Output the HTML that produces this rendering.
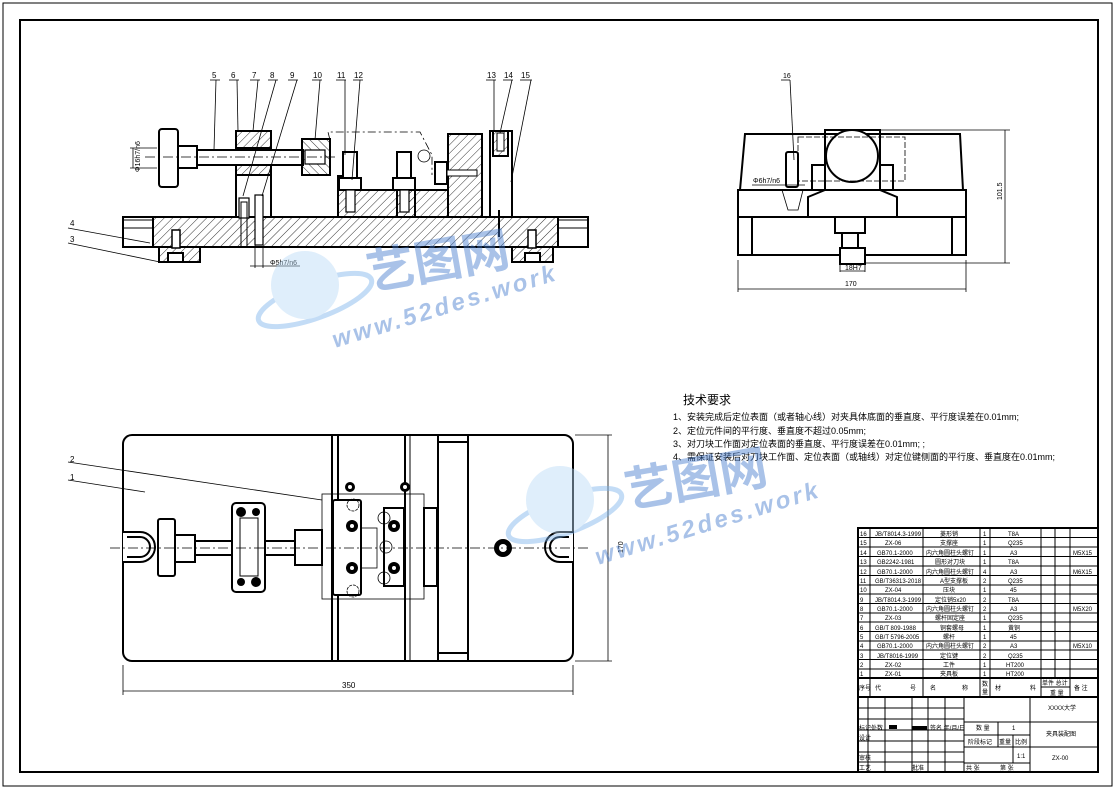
<!DOCTYPE html>
<html><head><meta charset="utf-8"><style>
html,body{margin:0;padding:0;background:#fff}
svg{display:block}
text{font-family:"Liberation Sans","Noto Sans CJK SC",sans-serif;fill:#000}
</style></head><body>
<svg width="1115" height="789" viewBox="0 0 1115 789" xmlns="http://www.w3.org/2000/svg">
<defs>
<pattern id="h" width="6" height="6" patternUnits="userSpaceOnUse" patternTransform="rotate(45)">
<line x1="0" y1="0" x2="0" y2="6" stroke="#000" stroke-width="0.8"/></pattern>
<pattern id="h2" width="6" height="6" patternUnits="userSpaceOnUse" patternTransform="rotate(-45)">
<line x1="0" y1="0" x2="0" y2="6" stroke="#000" stroke-width="0.8"/></pattern>
</defs>
<rect x="0" y="0" width="1115" height="789" fill="#fff"/>
<rect x="3" y="3" width="1109" height="783" fill="none" stroke="#000" stroke-width="1"/>
<rect x="20" y="20" width="1078" height="752" fill="none" stroke="#000" stroke-width="2"/>

<!-- FRONT VIEW -->
<g stroke="#000" fill="none" stroke-width="2">
<rect x="123" y="217" width="465" height="30" fill="url(#h)"/>
<rect x="123" y="217" width="30" height="30" fill="#fff"/>
<rect x="558" y="217" width="30" height="30" fill="#fff"/>
<rect x="123" y="220" width="30" height="8" stroke-width="1"/>
<rect x="558" y="220" width="30" height="8" stroke-width="1"/>
<rect x="159" y="247" width="41" height="15" fill="url(#h)"/>
<rect x="512" y="247" width="41" height="15" fill="url(#h)"/>
<rect x="168" y="253" width="15" height="9" fill="#fff"/>
<rect x="525" y="253" width="15" height="9" fill="#fff"/>
<rect x="172" y="230" width="8" height="18" fill="#fff" stroke-width="1.5"/>
<rect x="528" y="230" width="8" height="18" fill="#fff" stroke-width="1.5"/>
<polygon points="338,217 338,176 355,176 355,190 415,190 415,217" fill="url(#h)"/>
<rect x="415" y="190" width="33" height="27" fill="url(#h)"/>
<polygon points="397,190 415,190 415,217 397,217" fill="url(#h)"/>
<rect x="448" y="134" width="34" height="83" fill="url(#h)"/>
<rect x="490" y="131" width="22" height="86" fill="#fff"/>
<rect x="493" y="131" width="15" height="25" fill="url(#h)"/>
<rect x="497" y="133" width="7" height="18" fill="#fff" stroke-width="1"/>
<rect x="236" y="131" width="35" height="17" fill="url(#h)"/>
<rect x="236" y="148" width="35" height="69"/>
<rect x="236" y="157" width="35" height="18" fill="url(#h)"/>
<rect x="239" y="198" width="10" height="20" fill="#fff" stroke-width="1.2"/>
<rect x="255" y="195" width="8" height="50" fill="#fff" stroke-width="1.2"/>
<rect x="241" y="202" width="6" height="45" stroke-width="1"/>
<rect x="159" y="129" width="19" height="58" rx="3" fill="#fff"/>
<rect x="178" y="146" width="19" height="22" fill="#fff"/>
<rect x="197" y="150" width="106" height="15" fill="#fff"/>
<rect x="302" y="139" width="28" height="36" fill="url(#h2)"/>
<rect x="305" y="150" width="20" height="14" fill="#fff" stroke-width="1.2"/>
<rect x="343" y="152" width="14" height="30" fill="#fff"/>
<rect x="339" y="178" width="22" height="12" fill="#fff"/>
<rect x="346" y="190" width="9" height="22" fill="#fff" stroke-width="1.2"/>
<rect x="397" y="152" width="14" height="30" fill="#fff"/>
<rect x="393" y="178" width="22" height="12" fill="#fff"/>
<rect x="400" y="190" width="9" height="22" fill="#fff" stroke-width="1.2"/>
<rect x="435" y="162" width="12" height="22" fill="#fff"/>
<rect x="447" y="170" width="30" height="6" fill="#fff" stroke-width="1"/>
</g>
<g stroke="#000" fill="none" stroke-width="0.8">
<polyline points="330,140 328,132 420,132 432,155 432,175" stroke-dasharray="8,3,2,3"/>
<circle cx="424" cy="156" r="6"/>
<line x1="145" y1="157" x2="335" y2="157" stroke-dasharray="10,3,2,3"/>
<line x1="157" y1="148" x2="130" y2="148"/><line x1="157" y1="168" x2="130" y2="168"/>
<line x1="133" y1="148" x2="133" y2="168"/>
<line x1="255" y1="247" x2="255" y2="268"/><line x1="263" y1="247" x2="263" y2="268"/>
<line x1="250" y1="266" x2="300" y2="266"/>
<line x1="499" y1="210" x2="499" y2="237" stroke-width="2"/>
<line x1="210" y1="80" x2="220" y2="80"/><line x1="216" y1="80" x2="214" y2="150"/>
<line x1="229" y1="80" x2="239" y2="80"/><line x1="237" y1="80" x2="238" y2="131"/>
<line x1="250" y1="80" x2="260" y2="80"/><line x1="258" y1="80" x2="253" y2="131"/>
<line x1="268" y1="80" x2="278" y2="80"/><line x1="276" y1="80" x2="243" y2="196"/>
<line x1="288" y1="80" x2="298" y2="80"/><line x1="297" y1="80" x2="262" y2="196"/>
<line x1="312" y1="80" x2="322" y2="80"/><line x1="320" y1="80" x2="315" y2="140"/>
<line x1="336" y1="80" x2="346" y2="80"/><line x1="345" y1="80" x2="345" y2="155"/>
<line x1="353" y1="80" x2="363" y2="80"/><line x1="360" y1="80" x2="352" y2="180"/>
<line x1="486" y1="80" x2="496" y2="80"/><line x1="494" y1="80" x2="494" y2="131"/>
<line x1="503" y1="80" x2="513" y2="80"/><line x1="512" y1="80" x2="500" y2="133"/>
<line x1="520" y1="80" x2="532" y2="80"/><line x1="531" y1="80" x2="511" y2="182"/>
<line x1="68" y1="228" x2="150" y2="243"/><line x1="68" y1="243" x2="160" y2="262"/>
</g>
<g font-size="8">
<text x="212" y="78">5</text><text x="231" y="78">6</text><text x="252" y="78">7</text><text x="270" y="78">8</text><text x="290" y="78">9</text><text x="313" y="78">10</text><text x="337" y="78">11</text><text x="354" y="78">12</text><text x="487" y="78">13</text><text x="504" y="78">14</text><text x="521" y="78">15</text>
<text x="70" y="226">4</text><text x="70" y="242">3</text>
<text x="270" y="265" font-size="7">Φ5h7/n6</text>
<text x="140" y="172" font-size="7" transform="rotate(-90 140 172)">Φ16h7/n6</text>
</g>

<!-- SIDE VIEW -->
<g stroke="#000" fill="none" stroke-width="2">
<polygon points="745,134 960,134 963,190 740,190"/>
<rect x="738" y="190" width="228" height="27"/>
<rect x="738" y="217" width="228" height="38"/>
<line x1="752" y1="217" x2="752" y2="255"/><line x1="952" y1="217" x2="952" y2="255"/>
<rect x="835" y="217" width="30" height="16" fill="#fff"/>
<rect x="842" y="233" width="16" height="15" fill="#fff"/>
<rect x="840" y="248" width="25" height="16" fill="#fff"/>
<polyline points="825,190 825,130 880,130 880,190"/>
<rect x="812" y="165" width="13" height="25"/><rect x="880" y="165" width="13" height="25"/>
<polyline points="808,217 808,197 825,190"/><polyline points="897,217 897,197 880,190"/>
<circle cx="852" cy="156" r="26" fill="#fff"/>
<rect x="786" y="152" width="12" height="35" rx="2"/>
</g>
<g stroke="#000" fill="none" stroke-width="0.8">
<rect x="798" y="137" width="107" height="44" stroke-dasharray="6,2"/>
<path d="M782,190 L788,210 L798,210 L803,190"/>
<line x1="790" y1="80" x2="781" y2="80"/><line x1="790" y1="80" x2="794" y2="160"/>
<line x1="752" y1="185" x2="805" y2="185"/>
<line x1="880" y1="130" x2="1010" y2="130"/><line x1="865" y1="263" x2="1010" y2="263"/>
<line x1="1005" y1="130" x2="1005" y2="263"/>
<line x1="738" y1="260" x2="738" y2="292"/><line x1="966" y1="260" x2="966" y2="292"/>
<line x1="738" y1="289" x2="966" y2="289"/>
<line x1="840" y1="264" x2="840" y2="272"/><line x1="865" y1="264" x2="865" y2="272"/>
<line x1="840" y1="271" x2="865" y2="271"/>
</g>
<g font-size="7">
<text x="783" y="78">16</text><text x="753" y="183">Φ6h7/n6</text>
<text x="845" y="270">18H7</text><text x="845" y="286">170</text>
<text x="1002" y="200" transform="rotate(-90 1002 200)">101.5</text>
</g>

<!-- TOP VIEW -->
<g stroke="#000" fill="none" stroke-width="2">
<rect x="123" y="435" width="450" height="226" rx="9"/>
<line x1="332" y1="435" x2="332" y2="661"/><line x1="338" y1="435" x2="338" y2="661"/>
<line x1="405" y1="435" x2="405" y2="661"/><line x1="410" y1="435" x2="410" y2="661" stroke-width="1"/>
<rect x="438" y="435" width="30" height="226"/>
<line x1="438" y1="442" x2="468" y2="442"/><line x1="438" y1="653" x2="468" y2="653"/>
<path d="M123,532 H140 A10,10 0 0 1 140,562 H123" fill="#fff"/>
<path d="M127,537 H140 A5,5 0 0 1 140,557 H127"/>
<path d="M573,532 H560 A10,10 0 0 0 560,562 H573" fill="#fff"/>
<path d="M569,537 H560 A5,5 0 0 0 560,557 H569"/>
<rect x="158" y="519" width="17" height="57" rx="2" fill="#fff"/>
<rect x="175" y="535" width="20" height="27" fill="#fff"/>
<rect x="195" y="541" width="100" height="14" fill="#fff"/>
<rect x="232" y="503" width="33" height="89" rx="4" fill="#fff"/>
<rect x="240" y="518" width="18" height="58" stroke-width="1"/>
<rect x="295" y="530" width="27" height="35" fill="#fff"/>
<rect x="333" y="500" width="28" height="95" rx="2" fill="#fff"/>
<rect x="384" y="508" width="20" height="78" fill="#fff"/>
<rect x="424" y="508" width="13" height="78" fill="#fff"/>
</g>
<g fill="#000">
<circle cx="241" cy="512" r="5"/><circle cx="256" cy="512" r="4"/>
<circle cx="241" cy="582" r="4"/><circle cx="256" cy="582" r="5"/>
<circle cx="350" cy="487" r="5"/><circle cx="405" cy="487" r="5"/>
<circle cx="352" cy="526" r="6"/><circle cx="352" cy="568" r="6"/>
<circle cx="394" cy="526" r="6"/><circle cx="394" cy="568" r="6"/>
<circle cx="503" cy="548" r="9"/>
</g>
<g fill="#fff"><circle cx="350" cy="487" r="2"/><circle cx="405" cy="487" r="2"/><circle cx="352" cy="526" r="2"/><circle cx="352" cy="568" r="2"/><circle cx="394" cy="526" r="2"/><circle cx="394" cy="568" r="2"/><circle cx="503" cy="548" r="4"/></g>
<g stroke="#000" fill="none" stroke-width="0.8">
<rect x="322" y="494" width="102" height="105"/>
<rect x="361" y="528" width="16" height="40"/>
<circle cx="353" cy="505" r="6" stroke-dasharray="3,1"/><circle cx="353" cy="591" r="6" stroke-dasharray="3,1"/>
<circle cx="384" cy="518" r="6"/><circle cx="386" cy="547" r="6"/><circle cx="384" cy="578" r="6"/>
<line x1="110" y1="548" x2="590" y2="548" stroke-dasharray="10,3,2,3"/>
<line x1="123" y1="665" x2="123" y2="695"/><line x1="573" y1="665" x2="573" y2="695"/>
<line x1="123" y1="691" x2="573" y2="691"/>
<line x1="575" y1="435" x2="612" y2="435"/><line x1="575" y1="661" x2="612" y2="661"/>
<line x1="608" y1="435" x2="608" y2="661"/>
<line x1="68" y1="462" x2="322" y2="500"/><line x1="68" y1="480" x2="145" y2="492"/>
</g>
<g font-size="8"><text x="70" y="462">2</text><text x="70" y="480">1</text>
<text x="342" y="688">350</text><text x="623" y="553" font-size="7" transform="rotate(-90 623 553)">170</text></g>

<!-- TECH REQUIREMENTS -->
<g font-size="12"><text x="683" y="404">技术要求</text></g>
<g font-size="9">
<text x="673" y="420">1、安装完成后定位表面（或者轴心线）对夹具体底面的垂直度、平行度误差在0.01mm;</text>
<text x="673" y="434">2、定位元件间的平行度、垂直度不超过0.05mm;</text>
<text x="673" y="447">3、对刀块工作面对定位表面的垂直度、平行度误差在0.01mm; ;</text>
<text x="673" y="460">4、需保证安装后对刀块工作面、定位表面（或轴线）对定位键侧面的平行度、垂直度在0.01mm;</text>
</g>

<!-- WATERMARKS -->
<g opacity="0.45">
<ellipse cx="315" cy="300" rx="60" ry="18" fill="none" stroke="#7ab2ea" stroke-width="5" transform="rotate(-20 315 300)"/>
<circle cx="305" cy="285" r="34" fill="#b8d8f5"/>
<text x="370" y="290" font-size="48" style="fill:#3f78cc" font-weight="bold" transform="rotate(-10 370 290)">艺图网</text>
<text x="335" y="348" font-size="24" style="fill:#3f78cc" font-weight="bold" font-style="italic" letter-spacing="3" transform="rotate(-17 335 348)">www.52des.work</text>
<ellipse cx="565" cy="515" rx="60" ry="18" fill="none" stroke="#7ab2ea" stroke-width="5" transform="rotate(-20 565 515)"/>
<circle cx="560" cy="500" r="34" fill="#b8d8f5"/>
<text x="628" y="508" font-size="48" style="fill:#3f78cc" font-weight="bold" transform="rotate(-10 628 508)">艺图网</text>
<text x="598" y="565" font-size="24" style="fill:#3f78cc" font-weight="bold" font-style="italic" letter-spacing="3" transform="rotate(-17 598 565)">www.52des.work</text>
</g>

<!-- TITLE BLOCK -->
<g stroke="#000" fill="none" stroke-width="1">
<rect x="858" y="528" width="240" height="244" stroke-width="2"/>
<line x1="858" y1="678" x2="1098" y2="678" stroke-width="2"/>
<line x1="858" y1="697" x2="1098" y2="697" stroke-width="2"/>
<line x1="858" y1="537.5" x2="1098" y2="537.5"/><line x1="858" y1="547" x2="1098" y2="547"/><line x1="858" y1="556.5" x2="1098" y2="556.5"/><line x1="858" y1="566" x2="1098" y2="566"/><line x1="858" y1="575.5" x2="1098" y2="575.5"/><line x1="858" y1="585" x2="1098" y2="585"/><line x1="858" y1="594" x2="1098" y2="594"/><line x1="858" y1="603.5" x2="1098" y2="603.5"/><line x1="858" y1="613" x2="1098" y2="613"/><line x1="858" y1="622" x2="1098" y2="622"/><line x1="858" y1="631.5" x2="1098" y2="631.5"/><line x1="858" y1="641" x2="1098" y2="641"/><line x1="858" y1="650" x2="1098" y2="650"/><line x1="858" y1="659.5" x2="1098" y2="659.5"/><line x1="858" y1="669" x2="1098" y2="669"/>
<line x1="870" y1="528" x2="870" y2="697"/><line x1="923" y1="528" x2="923" y2="697"/><line x1="980" y1="528" x2="980" y2="697"/><line x1="990" y1="528" x2="990" y2="697"/><line x1="1041" y1="528" x2="1041" y2="697"/><line x1="1055" y1="528" x2="1055" y2="678"/><line x1="1070" y1="528" x2="1070" y2="697"/>
<line x1="1041" y1="687" x2="1070" y2="687"/>
<line x1="964" y1="697" x2="964" y2="772"/><line x1="1030" y1="697" x2="1030" y2="772"/>
<line x1="858" y1="708" x2="964" y2="708"/><line x1="858" y1="719" x2="964" y2="719"/><line x1="858" y1="730" x2="964" y2="730"/><line x1="858" y1="741" x2="964" y2="741"/><line x1="858" y1="752" x2="964" y2="752"/><line x1="858" y1="762" x2="964" y2="762"/>
<line x1="868" y1="697" x2="868" y2="772"/><line x1="885" y1="697" x2="885" y2="772"/><line x1="912" y1="697" x2="912" y2="772"/><line x1="928" y1="697" x2="928" y2="772"/><line x1="945" y1="697" x2="945" y2="772"/>
<line x1="964" y1="722" x2="1098" y2="722"/><line x1="964" y1="747" x2="1098" y2="747"/>
<line x1="964" y1="735" x2="1030" y2="735"/><line x1="964" y1="763" x2="1030" y2="763"/>
<line x1="998" y1="722" x2="998" y2="747"/><line x1="1013" y1="735" x2="1013" y2="763"/>
</g>
<rect x="889" y="725" width="8" height="4" fill="#000"/><rect x="912" y="726" width="15" height="4" fill="#000"/>
<g font-size="6">
<text x="860" y="536">16</text><text x="875" y="536">JB/T8014.3-1999</text><text x="940" y="536">菱形销</text><text x="983" y="536">1</text><text x="1008" y="536">T8A</text>
<text x="860" y="545">15</text><text x="885" y="545">ZX-06</text><text x="940" y="545">支撑座</text><text x="983" y="545">1</text><text x="1008" y="545">Q235</text>
<text x="860" y="555">14</text><text x="877" y="555">GB70.1-2000</text><text x="926" y="555">内六角圆柱头螺钉</text><text x="983" y="555">1</text><text x="1010" y="555">A3</text><text x="1073" y="555">M5X15</text>
<text x="860" y="564">13</text><text x="877" y="564">GB2242-1981</text><text x="935" y="564">圆形对刀块</text><text x="983" y="564">1</text><text x="1008" y="564">T8A</text>
<text x="860" y="574">12</text><text x="877" y="574">GB70.1-2000</text><text x="926" y="574">内六角圆柱头螺钉</text><text x="983" y="574">4</text><text x="1010" y="574">A3</text><text x="1073" y="574">M6X15</text>
<text x="860" y="583">11</text><text x="875" y="583">GB/T36313-2018</text><text x="940" y="583">A型支撑板</text><text x="983" y="583">2</text><text x="1008" y="583">Q235</text>
<text x="860" y="592">10</text><text x="885" y="592">ZX-04</text><text x="943" y="592">压块</text><text x="983" y="592">1</text><text x="1010" y="592">45</text>
<text x="860" y="602">9</text><text x="875" y="602">JB/T8014.3-1999</text><text x="935" y="602">定位销5x20</text><text x="983" y="602">2</text><text x="1008" y="602">T8A</text>
<text x="860" y="611">8</text><text x="877" y="611">GB70.1-2000</text><text x="926" y="611">内六角圆柱头螺钉</text><text x="983" y="611">2</text><text x="1010" y="611">A3</text><text x="1073" y="611">M5X20</text>
<text x="860" y="620">7</text><text x="885" y="620">ZX-03</text><text x="935" y="620">螺杆固定座</text><text x="983" y="620">1</text><text x="1008" y="620">Q235</text>
<text x="860" y="630">6</text><text x="875" y="630">GB/T 809-1988</text><text x="940" y="630">铜套螺母</text><text x="983" y="630">1</text><text x="1008" y="630">黄铜</text>
<text x="860" y="639">5</text><text x="875" y="639">GB/T 5796-2005</text><text x="943" y="639">螺杆</text><text x="983" y="639">1</text><text x="1010" y="639">45</text>
<text x="860" y="648">4</text><text x="877" y="648">GB70.1-2000</text><text x="926" y="648">内六角圆柱头螺钉</text><text x="983" y="648">2</text><text x="1010" y="648">A3</text><text x="1073" y="648">M5X10</text>
<text x="860" y="658">3</text><text x="877" y="658">JB/T8016-1999</text><text x="940" y="658">定位键</text><text x="983" y="658">2</text><text x="1008" y="658">Q235</text>
<text x="860" y="667">2</text><text x="885" y="667">ZX-02</text><text x="943" y="667">工件</text><text x="983" y="667">1</text><text x="1006" y="667">HT200</text>
<text x="860" y="676">1</text><text x="885" y="676">ZX-01</text><text x="940" y="676">夹具板</text><text x="983" y="676">1</text><text x="1006" y="676">HT200</text>
<text x="859" y="690">序号</text><text x="875" y="690">代</text><text x="910" y="690">号</text><text x="930" y="690">名</text><text x="962" y="690">称</text><text x="982" y="686">数</text><text x="982" y="694">量</text><text x="995" y="690">材</text><text x="1030" y="690">料</text><text x="1042" y="685">单件 总计</text><text x="1050" y="695">重 量</text><text x="1074" y="690">备 注</text>
<text x="1048" y="710">XXXX大学</text><text x="1046" y="736">夹具装配图</text><text x="1052" y="760">ZX-00</text>
<text x="976" y="730">数 量</text><text x="1012" y="730">1</text>
<text x="968" y="744">阶段标记</text><text x="999" y="744">重量</text><text x="1015" y="744">比例</text><text x="1017" y="758">1:1</text>
<text x="966" y="770">共 张</text><text x="1000" y="770">第 张</text>
<text x="859" y="730">标记处数</text><text x="930" y="730">签名 年/月/日</text>
<text x="859" y="740">设计</text><text x="859" y="760">审核</text><text x="859" y="770">工艺</text><text x="912" y="770">批准</text>
</g>
</svg>
</body></html>
